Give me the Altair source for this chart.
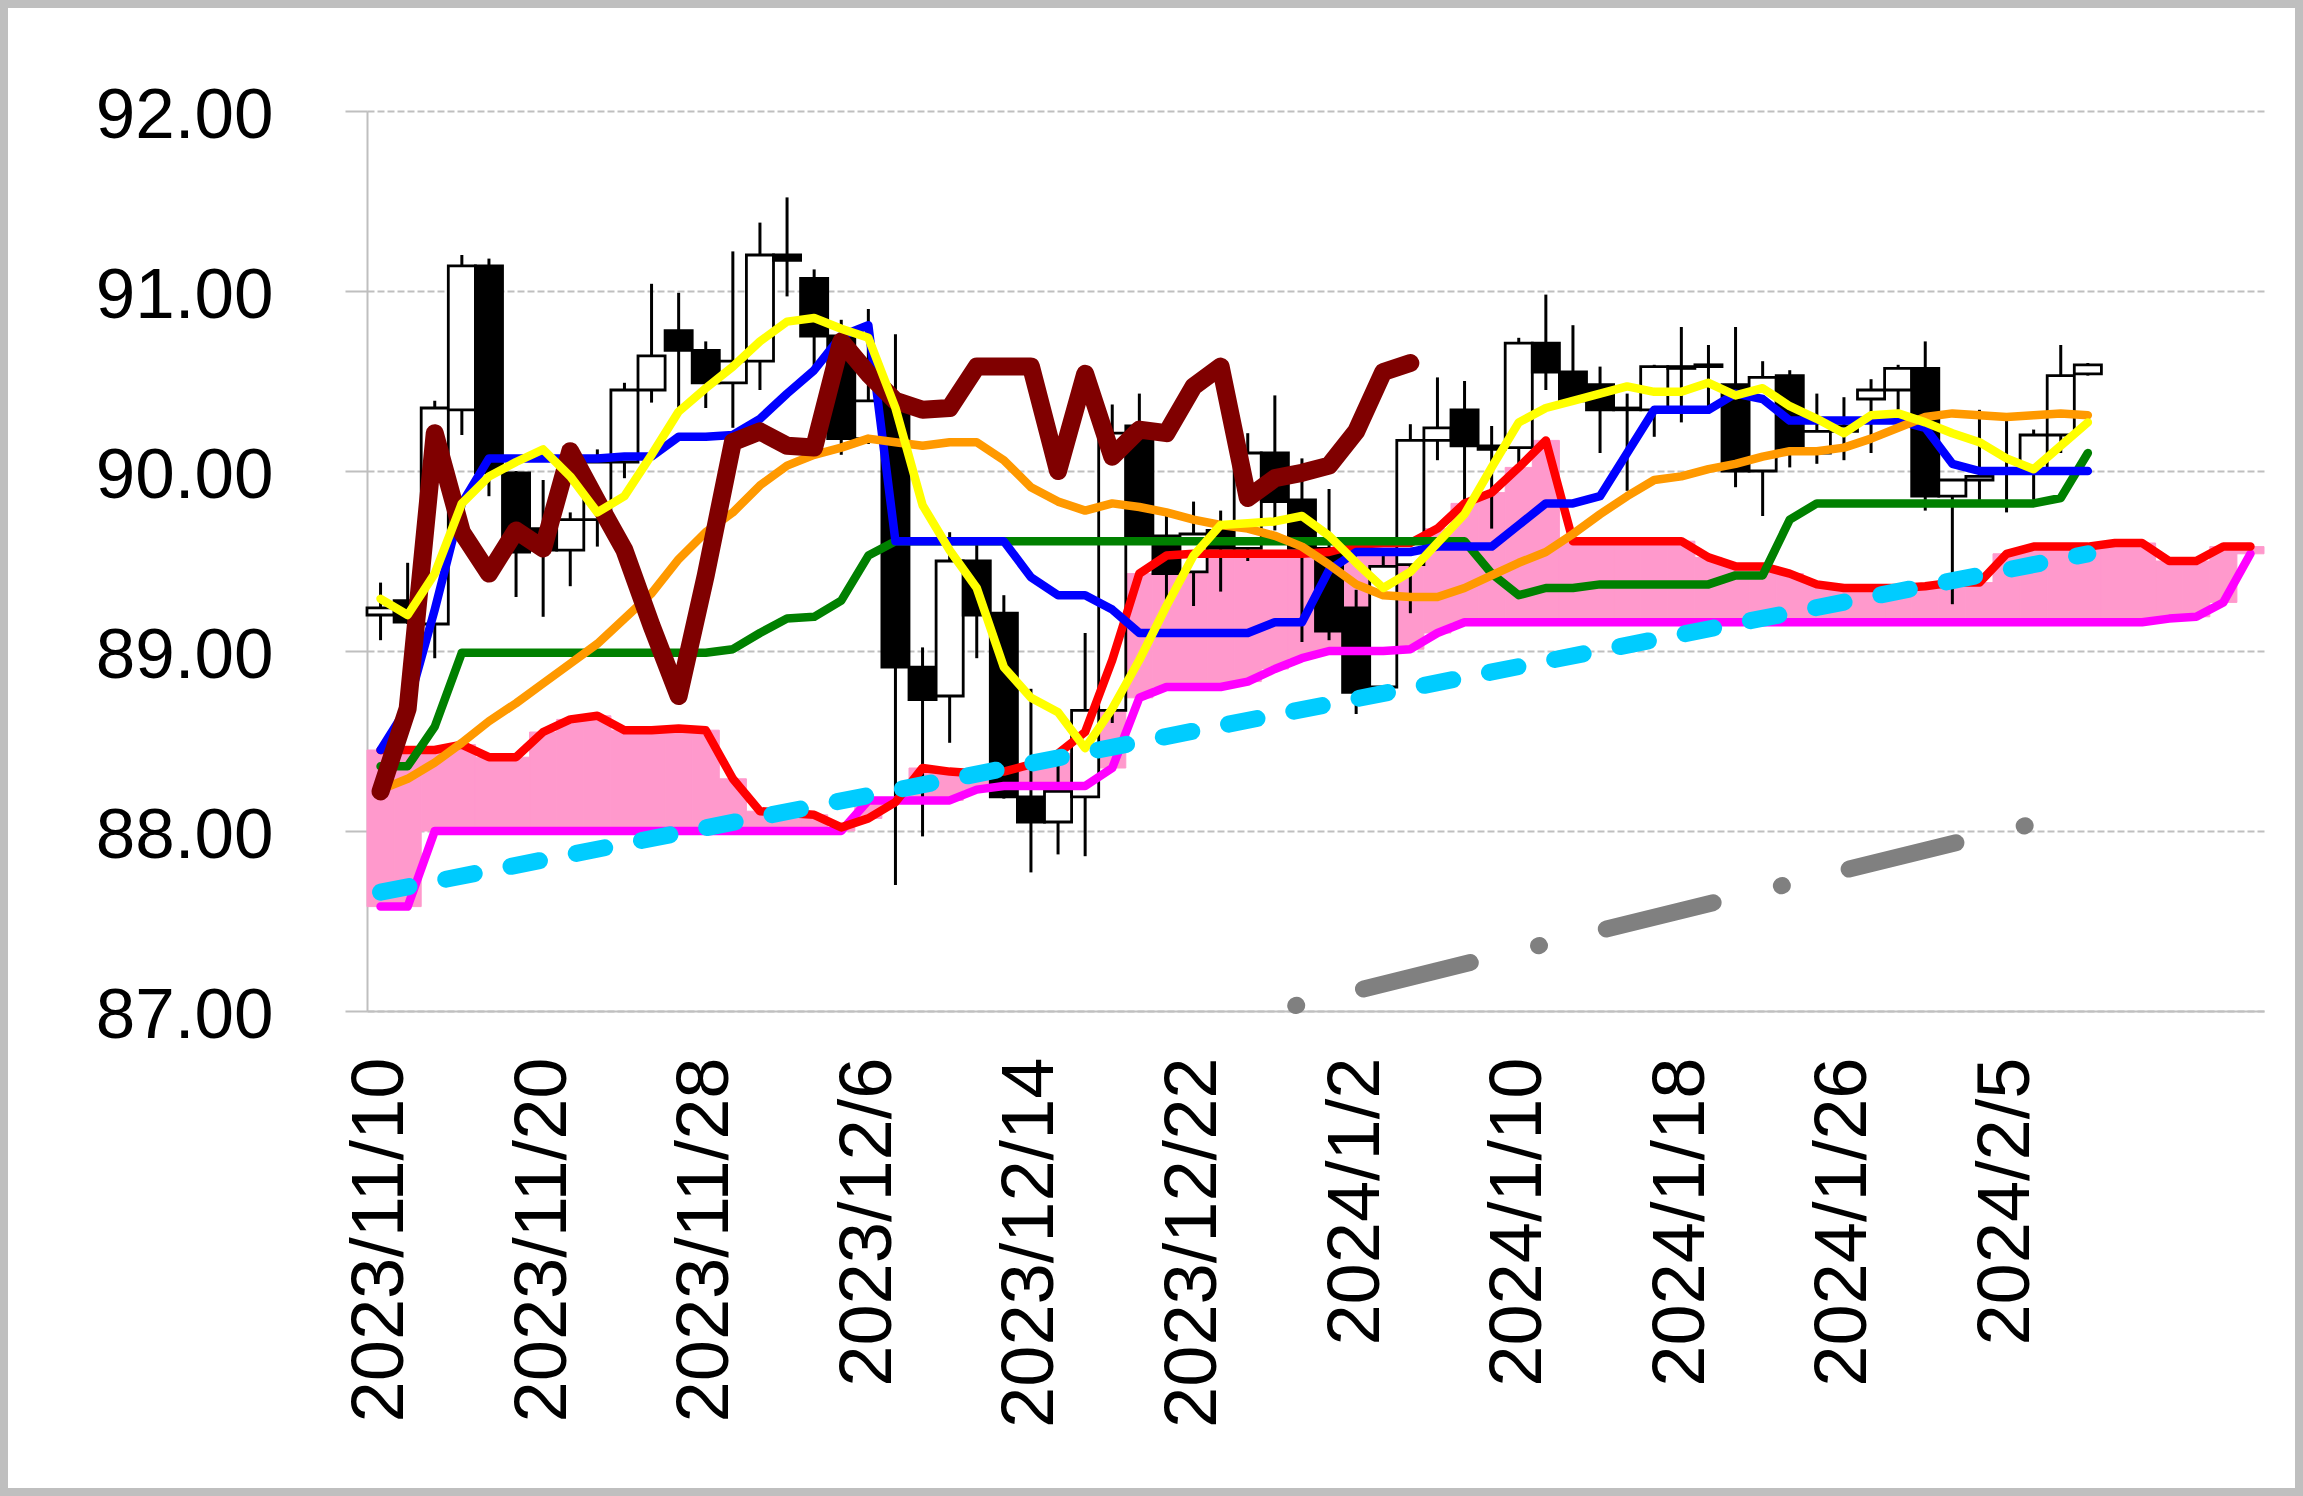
import altair as alt
import pandas as pd

# ---------------- data ----------------
dates = [
    "2023/11/10", "2023/11/13", "2023/11/14", "2023/11/15", "2023/11/16", "2023/11/17",
    "2023/11/20", "2023/11/21", "2023/11/22", "2023/11/23", "2023/11/24", "2023/11/27",
    "2023/11/28", "2023/11/29", "2023/11/30", "2023/12/1", "2023/12/4", "2023/12/5",
    "2023/12/6", "2023/12/7", "2023/12/8", "2023/12/11", "2023/12/12", "2023/12/13",
    "2023/12/14", "2023/12/15", "2023/12/18", "2023/12/19", "2023/12/20", "2023/12/21",
    "2023/12/22", "2023/12/25", "2023/12/26", "2023/12/27", "2023/12/28", "2023/12/29",
    "2024/1/2", "2024/1/3", "2024/1/4", "2024/1/5", "2024/1/8", "2024/1/9",
    "2024/1/10", "2024/1/11", "2024/1/12", "2024/1/15", "2024/1/16", "2024/1/17",
    "2024/1/18", "2024/1/19", "2024/1/22", "2024/1/23", "2024/1/24", "2024/1/25",
    "2024/1/26", "2024/1/29", "2024/1/30", "2024/1/31", "2024/2/1", "2024/2/2",
    "2024/2/5", "2024/2/6", "2024/2/7", "2024/2/8",
    "", "", "", "", "", "",
]

opens = [89.20, 89.28, 89.15, 90.34, 91.14, 89.99, 89.68, 89.56, 89.73, 90.05,
         90.45, 90.78, 90.67, 90.49, 90.61, 91.20, 91.07, 90.75, 90.18, 90.39,
         88.91, 88.75, 89.50, 89.21, 88.19, 88.05, 88.19, 88.67, 90.25, 89.64,
         89.44, 89.67, 89.57, 90.10, 89.84, 89.57, 89.24, 88.80, 89.48, 90.17,
         90.34, 90.14, 90.13, 90.71, 90.55, 90.48, 90.35, 90.34, 90.57, 90.58,
         90.48, 90.00, 90.53, 90.10, 90.22, 90.40, 90.45, 90.57, 89.86, 89.95,
         89.99, 90.00, 90.20, 90.54]
highs = [89.38, 89.49, 90.39, 91.20, 91.18, 90.00, 89.95, 89.77, 90.12, 90.49,
         91.04, 90.99, 90.72, 91.22, 91.38, 91.52, 91.12, 90.84, 90.90, 90.76,
         89.02, 89.66, 89.59, 89.31, 88.79, 88.44, 89.10, 90.37, 90.43, 89.75,
         89.83, 89.78, 90.21, 90.42, 90.07, 89.90, 89.34, 89.57, 90.26, 90.52,
         90.50, 90.25, 90.74, 90.98, 90.81, 90.58, 90.43, 90.59, 90.80, 90.70,
         90.80, 90.61, 90.56, 90.43, 90.41, 90.51, 90.59, 90.72, 89.95, 90.34,
         90.28, 90.23, 90.70, 90.60]
lows = [89.06, 89.15, 88.96, 90.20, 89.86, 89.30, 89.19, 89.36, 89.58, 89.96,
        90.38, 90.34, 90.35, 90.24, 90.45, 90.97, 90.58, 90.09, 90.15, 87.70,
        87.97, 88.49, 88.96, 88.18, 87.77, 87.87, 87.86, 88.60, 89.62, 89.28,
        89.25, 89.33, 89.50, 89.67, 89.05, 89.06, 88.65, 88.75, 89.21, 90.06,
        89.82, 89.68, 90.02, 90.45, 90.39, 90.10, 89.89, 90.19, 90.27, 90.32,
        89.91, 89.75, 90.02, 90.04, 90.06, 90.10, 90.34, 89.78, 89.26, 89.84,
        89.77, 89.84, 90.10, 90.53]
closes = [89.24, 89.16, 90.35, 91.14, 89.99, 89.55, 89.56, 89.73, 90.05, 90.45,
          90.64, 90.67, 90.49, 90.61, 91.20, 91.17, 90.75, 90.18, 90.39, 88.91,
          88.73, 89.50, 89.20, 88.19, 88.05, 88.22, 88.67, 90.21, 89.63, 89.43,
          89.65, 89.57, 90.10, 89.83, 89.57, 89.11, 88.77, 89.47, 90.17, 90.24,
          90.14, 90.12, 90.71, 90.55, 90.39, 90.34, 90.34, 90.58, 90.58, 90.59,
          90.00, 90.52, 90.11, 90.22, 90.25, 90.45, 90.57, 89.86, 89.95, 89.97,
          90.00, 90.20, 90.53, 90.59]

tenkan = [88.45, 88.69, 89.23, 89.82, 90.07, 90.07, 90.07, 90.07, 90.07, 90.08,
          90.08, 90.19, 90.19, 90.20, 90.29, 90.43, 90.56, 90.75, 90.81, 89.61,
          89.61, 89.61, 89.61, 89.61, 89.41, 89.31, 89.31, 89.23, 89.10, 89.10,
          89.10, 89.10, 89.10, 89.16, 89.16, 89.45, 89.55, 89.55, 89.55, 89.58,
          89.58, 89.58, 89.70, 89.82, 89.82, 89.86, 90.10, 90.34, 90.34, 90.34,
          90.43, 90.40, 90.28, 90.28, 90.28, 90.28, 90.28, 90.24, 90.04, 90.00,
          90.00, 90.00, 90.00, 90.00]
kijun = [88.36, 88.36, 88.58, 88.99, 88.99, 88.99, 88.99, 88.99, 88.99, 88.99,
         88.99, 88.99, 88.99, 89.01, 89.10, 89.18, 89.19, 89.28, 89.53, 89.61,
         89.61, 89.61, 89.61, 89.61, 89.61, 89.61, 89.61, 89.61, 89.61, 89.61,
         89.61, 89.61, 89.61, 89.61, 89.61, 89.61, 89.61, 89.61, 89.61, 89.61,
         89.61, 89.43, 89.31, 89.35, 89.35, 89.37, 89.37, 89.37, 89.37, 89.37,
         89.42, 89.42, 89.73, 89.82, 89.82, 89.82, 89.82, 89.82, 89.82, 89.82,
         89.82, 89.82, 89.85, 90.10]
span_a = [88.45, 88.45, 88.45, 88.48, 88.41, 88.41, 88.55, 88.62, 88.64, 88.56,
          88.56, 88.57, 88.56, 88.29, 88.11, 88.10, 88.09, 88.02, 88.07, 88.16,
          88.35, 88.33, 88.32, 88.33, 88.37, 88.43, 88.55, 88.95, 89.43, 89.53,
          89.54, 89.54, 89.54, 89.54, 89.54, 89.55, 89.59, 89.60, 89.60, 89.68,
          89.82, 89.88, 90.02, 90.17, 89.61, 89.61, 89.61, 89.61, 89.61, 89.52,
          89.47, 89.47, 89.43, 89.37, 89.35, 89.35, 89.35, 89.36, 89.38, 89.38,
          89.54, 89.58, 89.58, 89.58, 89.60, 89.60, 89.50, 89.50, 89.58, 89.58]
span_b = [87.58, 87.58, 88.00, 88.00, 88.00, 88.00, 88.00, 88.00, 88.00, 88.00,
          88.00, 88.00, 88.00, 88.00, 88.00, 88.00, 88.00, 88.00, 88.17, 88.17,
          88.17, 88.17, 88.23, 88.25, 88.25, 88.25, 88.25, 88.35, 88.74, 88.80,
          88.80, 88.80, 88.83, 88.90, 88.96, 89.00, 89.00, 89.00, 89.01, 89.10,
          89.16, 89.16, 89.16, 89.16, 89.16, 89.16, 89.16, 89.16, 89.16, 89.16,
          89.16, 89.16, 89.16, 89.16, 89.16, 89.16, 89.16, 89.16, 89.16, 89.16,
          89.16, 89.16, 89.16, 89.16, 89.16, 89.16, 89.18, 89.19, 89.27, 89.54]
chikou = [88.22, 88.68, 90.21, 89.66, 89.43, 89.67, 89.57, 90.11, 89.83, 89.56,
          89.14, 88.75, 89.42, 90.16, 90.22, 90.14, 90.13, 90.72, 90.54, 90.39,
          90.34, 90.35, 90.58, 90.58, 90.58, 90.00, 90.54, 90.08, 90.23, 90.21,
          90.47, 90.58, 89.85, 89.96, 89.99, 90.03, 90.22, 90.55, 90.60]
ma_fast = [89.29, 89.20, 89.43, 89.82, 89.97, 90.05, 90.12, 89.97, 89.77, 89.86,
           90.09, 90.33, 90.46, 90.58, 90.72, 90.83, 90.85, 90.79, 90.74, 90.35,
           89.81, 89.56, 89.35, 88.91, 88.74, 88.66, 88.46, 88.68, 88.95, 89.25,
           89.53, 89.70, 89.71, 89.72, 89.75, 89.64, 89.49, 89.35, 89.44, 89.60,
           89.76, 90.02, 90.27, 90.35, 90.39, 90.43, 90.47, 90.44, 90.44, 90.49,
           90.42, 90.46, 90.36, 90.29, 90.21, 90.31, 90.32, 90.27, 90.21, 90.16,
           90.07, 90.01, 90.14, 90.27]
ma_slow = [88.23, 88.29, 88.38, 88.49, 88.61, 88.71, 88.82, 88.93, 89.04, 89.18,
           89.32, 89.51, 89.66, 89.77, 89.92, 90.03, 90.09, 90.13, 90.18, 90.16,
           90.14, 90.16, 90.16, 90.06, 89.91, 89.83, 89.78, 89.82, 89.80, 89.77,
           89.73, 89.70, 89.68, 89.64, 89.58, 89.48, 89.37, 89.31, 89.30, 89.30,
           89.35, 89.42, 89.49, 89.55, 89.65, 89.76, 89.86, 89.95, 89.97, 90.01,
           90.04, 90.08, 90.11, 90.11, 90.13, 90.18, 90.24, 90.30, 90.32, 90.31,
           90.30, 90.31, 90.32, 90.31]

trend_up_i = [0, 63]
trend_up_v = [87.66, 89.54]
trend_low_i = [33.77, 60.7]
trend_low_v = [87.03, 88.03]

y_ticks = [87, 88, 89, 90, 91, 92]
x_tick_idx = [0, 6, 12, 18, 24, 30, 36, 42, 48, 54, 60]

# ---------------- tables ----------------
n_cat = len(dates)
candles = pd.DataFrame({"i": list(range(len(opens))), "open": opens, "high": highs,
                        "low": lows, "close": closes})
cloud = pd.DataFrame({"i": list(range(len(span_a))), "a": span_a, "b": span_b})


def series(vals, idx=None):
    if idx is None:
        idx = list(range(len(vals)))
    return pd.DataFrame({"i": idx, "v": vals})


label_js = "[" + ",".join("'" + d + "'" for d in dates) + "]"

xscale = alt.Scale(domain=[-0.5, n_cat - 0.5], nice=False, zero=False)
yscale = alt.Scale(domain=[87, 92], nice=False, zero=False)

xaxis = alt.Axis(values=x_tick_idx, labelExpr=label_js + "[datum.value]",
                 labelAngle=270, labelAlign="right", labelBaseline="middle",
                 labelFont="Liberation Sans", labelFontSize=74, labelColor="black",
                 labelPadding=46, labelLimit=2000, ticks=False, grid=False,
                 domainColor="#BFBFBF", domainWidth=2, labelOverlap=False,
                 labelFlush=False, title=None)
yaxis = alt.Axis(values=y_ticks, format=".2f", labelFont="Liberation Sans",
                 labelFontSize=71, labelColor="black", labelPadding=72,
                 labelOffset=5, labelLimit=2000,
                 tickSize=22, tickColor="#BFBFBF", tickWidth=2,
                 domainColor="#BFBFBF", domainWidth=2, grid=True,
                 gridColor="#BFBFBF", gridDash=[7, 3], gridWidth=2,
                 labelOverlap=False, labelFlush=False, title=None)


def X(field):
    return alt.X(field, type="quantitative", scale=xscale, axis=xaxis)


def Y(field):
    return alt.Y(field, type="quantitative", scale=yscale, axis=yaxis)


cloud_layer = alt.Chart(cloud).transform_calculate(
    x0="datum.i - 0.5", x1="datum.i + 0.5"
).mark_rect(color="#FF99CC", stroke="#FF99CC", strokeWidth=1).encode(
    x=X("x0"), x2="x1", y=Y("a"), y2="b")

wicks = alt.Chart(candles).mark_rule(color="black", strokeWidth=3).encode(
    x=X("i"), y=Y("low"), y2="high")

bodies = alt.Chart(candles).transform_calculate(
    x0="datum.i - 0.5", x1="datum.i + 0.5"
).mark_rect(stroke="black", strokeWidth=2.8).encode(
    x=X("x0"), x2="x1", y=Y("open"), y2="close",
    fill=alt.condition("datum.close >= datum.open", alt.value("white"), alt.value("black")))


def line(vals, color, width, idx=None, dash=None):
    kw = dict(color=color, strokeWidth=width, strokeCap="round", strokeJoin="round")
    if dash is not None:
        kw["strokeDash"] = dash
    return alt.Chart(series(vals, idx)).mark_line(**kw).encode(x=X("i"), y=Y("v"))


W = 8.5
l_b = line(span_b, "#FF00FF", W)
l_a = line(span_a, "#FF0000", W)
l_kijun = line(kijun, "#008000", W)
l_tenkan = line(tenkan, "#0000FF", W)
l_slow = line(ma_slow, "#FF9900", W)
l_chikou = line(chikou, "#800000", 18)
l_fast = line(ma_fast, "#FFFF00", W)
l_up = line(trend_up_v, "#00CCFF", 17, idx=trend_up_i, dash=[29, 37.5])
l_low = line(trend_low_v, "#808080", 17, idx=trend_low_i, dash=[1, 68.8, 110, 70.3])

border = alt.Chart(pd.DataFrame({"k": [0]})).mark_rect(
    filled=False, stroke="#BFBFBF", strokeWidth=8).encode(
    x=alt.value(-363), x2=alt.value(1932), y=alt.value(-107), y2=alt.value(1381))

chart = alt.layer(
    cloud_layer, wicks, bodies, l_b, l_a, l_kijun, l_tenkan, l_slow, l_chikou,
    l_fast, l_up, l_low, border
).properties(
    width=1897, height=900,
    autosize=alt.AutoSizeParams(type="none"),
    padding={"left": 367, "top": 111, "right": 39, "bottom": 485},
    background="white",
).configure_view(stroke="transparent")

chart.save("out.html", embed_options={"renderer": "svg", "actions": False})
